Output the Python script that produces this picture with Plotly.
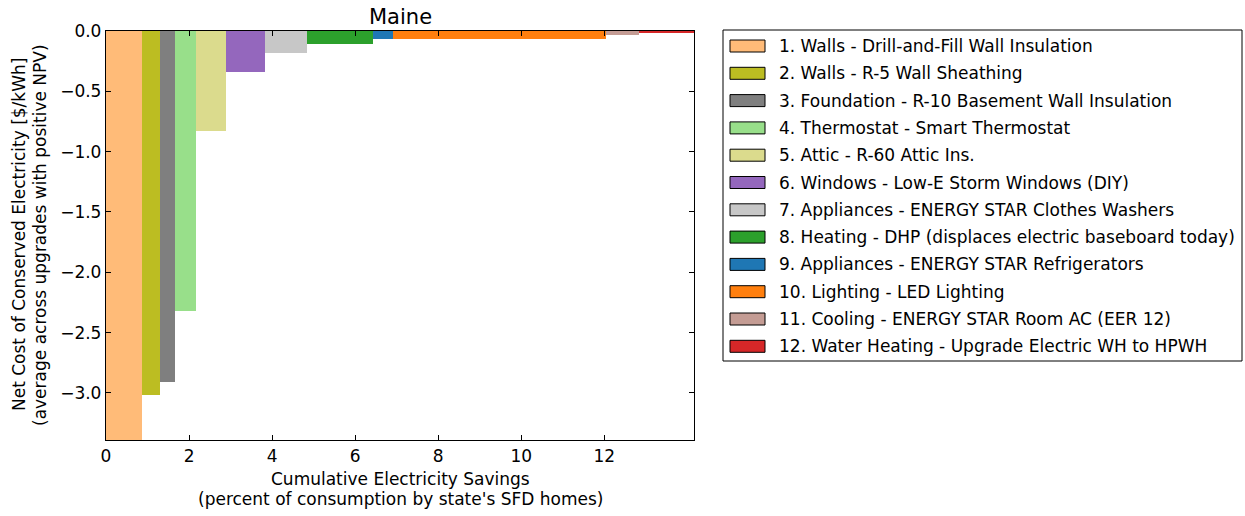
import plotly.graph_objects as go

# ---- data ----
labels = [
    "1. Walls - Drill-and-Fill Wall Insulation",
    "2. Walls - R-5 Wall Sheathing",
    "3. Foundation - R-10 Basement Wall Insulation",
    "4. Thermostat - Smart Thermostat",
    "5. Attic - R-60 Attic Ins.",
    "6. Windows - Low-E Storm Windows (DIY)",
    "7. Appliances - ENERGY STAR Clothes Washers",
    "8. Heating - DHP (displaces electric baseboard today)",
    "9. Appliances - ENERGY STAR Refrigerators",
    "10. Lighting - LED Lighting",
    "11. Cooling - ENERGY STAR Room AC (EER 12)",
    "12. Water Heating - Upgrade Electric WH to HPWH",
]
savings = [0.87, 0.42, 0.38, 0.49, 0.74, 0.93, 1.01, 1.60, 0.48, 5.11, 0.81, 1.32]
net_cost = [-3.39, -3.02, -2.91, -2.32, -0.83, -0.34, -0.18, -0.105, -0.07, -0.065, -0.03, -0.02]
colors = ["#ffbb78", "#bcbd22", "#7f7f7f", "#98df8a", "#dbdb8d", "#9467bd",
          "#c7c7c7", "#2ca02c", "#1f77b4", "#ff7f0e", "#c49c94", "#d62728"]
x_ticks = [0, 2, 4, 6, 8, 10, 12]
y_ticks = [0.0, -0.5, -1.0, -1.5, -2.0, -2.5, -3.0]

# ---- derived positions ----
lefts = []
acc = 0.0
for w in savings:
    lefts.append(acc)
    acc += w
total = acc
mids = [l + w / 2 for l, w in zip(lefts, savings)]

FONT = "DejaVu Sans"
W, H = 1245, 516
# plot area in screen pixels
PL, PR, PT, PB = 106, 694, 31, 440

fig = go.Figure()
fig.add_trace(go.Bar(
    x=mids, y=net_cost, width=savings, base=0,
    marker=dict(color=colors, line=dict(width=0)),
    showlegend=False, hoverinfo="skip",
))

def px2paper(px, py):
    return (px - PL) / (PR - PL), (PB - py) / (PB - PT)

shapes = []
annotations = []
# legend frame
x0, y0 = px2paper(723, 30)
x1, y1 = px2paper(1242, 361)
shapes.append(dict(type="rect", xref="paper", yref="paper", x0=x0, y0=y1, x1=x1, y1=y0,
                   line=dict(color="#000", width=1), fillcolor="white", layer="above"))
for i, (lab, col) in enumerate(zip(labels, colors)):
    cy = 46 + i * 27.3
    a0, b0 = px2paper(730, cy - 6)
    a1, b1 = px2paper(765, cy + 6)
    shapes.append(dict(type="rect", xref="paper", yref="paper", x0=a0, y0=b1, x1=a1, y1=b0,
                       line=dict(color="#000", width=1), fillcolor=col, layer="above"))
    tx, ty = px2paper(777, cy)
    annotations.append(dict(xref="paper", yref="paper", x=tx, y=ty, text=lab,
                            showarrow=False, xanchor="left", yanchor="middle",
                            font=dict(family=FONT, size=17, color="#000")))

def add_text(px, py, text, size=17, angle=0):
    ax, ay = px2paper(px, py)
    annotations.append(dict(xref="paper", yref="paper", x=ax, y=ay, text=text,
                            textangle=angle, showarrow=False, xanchor="center", yanchor="middle",
                            font=dict(family=FONT, size=size, color="#000")))

# y-axis title (two lines)
add_text(19, 235, "Net Cost of Conserved Electricity [$/kWh]", angle=-90)
add_text(40, 235, "(average across upgrades with positive NPV)", angle=-90)
# x-axis title
add_text(400, 479, "Cumulative Electricity Savings")
add_text(400, 499, "(percent of consumption by state's SFD homes)")
# title
add_text(400, 17, "Maine", size=21)

fig.update_layout(
    width=W, height=H,
    margin=dict(l=PL, r=W - PR, t=PT, b=H - PB, pad=0),
    paper_bgcolor="white", plot_bgcolor="white",
    font=dict(family=FONT, size=17, color="#000"),
    bargap=0,
    shapes=shapes, annotations=annotations,
    xaxis=dict(range=[0, total], tickvals=x_ticks, ticktext=[str(v) for v in x_ticks],
               ticks="inside", ticklen=5, tickcolor="#000", showgrid=False, zeroline=False,
               showline=True, linecolor="#000", linewidth=1.3, mirror="ticks",
               tickfont=dict(family=FONT, size=17)),
    yaxis=dict(range=[min(net_cost), 0], tickvals=y_ticks, tickformat=".1f",
               ticks="inside", ticklen=5, tickcolor="#000", showgrid=False, zeroline=False,
               showline=True, linecolor="#000", linewidth=1.3, mirror="ticks",
               tickfont=dict(family=FONT, size=17)),
)

fig.write_html("out.html",
               config={"displayModeBar": False},
               post_script="document.body.style.margin='0';document.body.style.overflow='hidden';")
